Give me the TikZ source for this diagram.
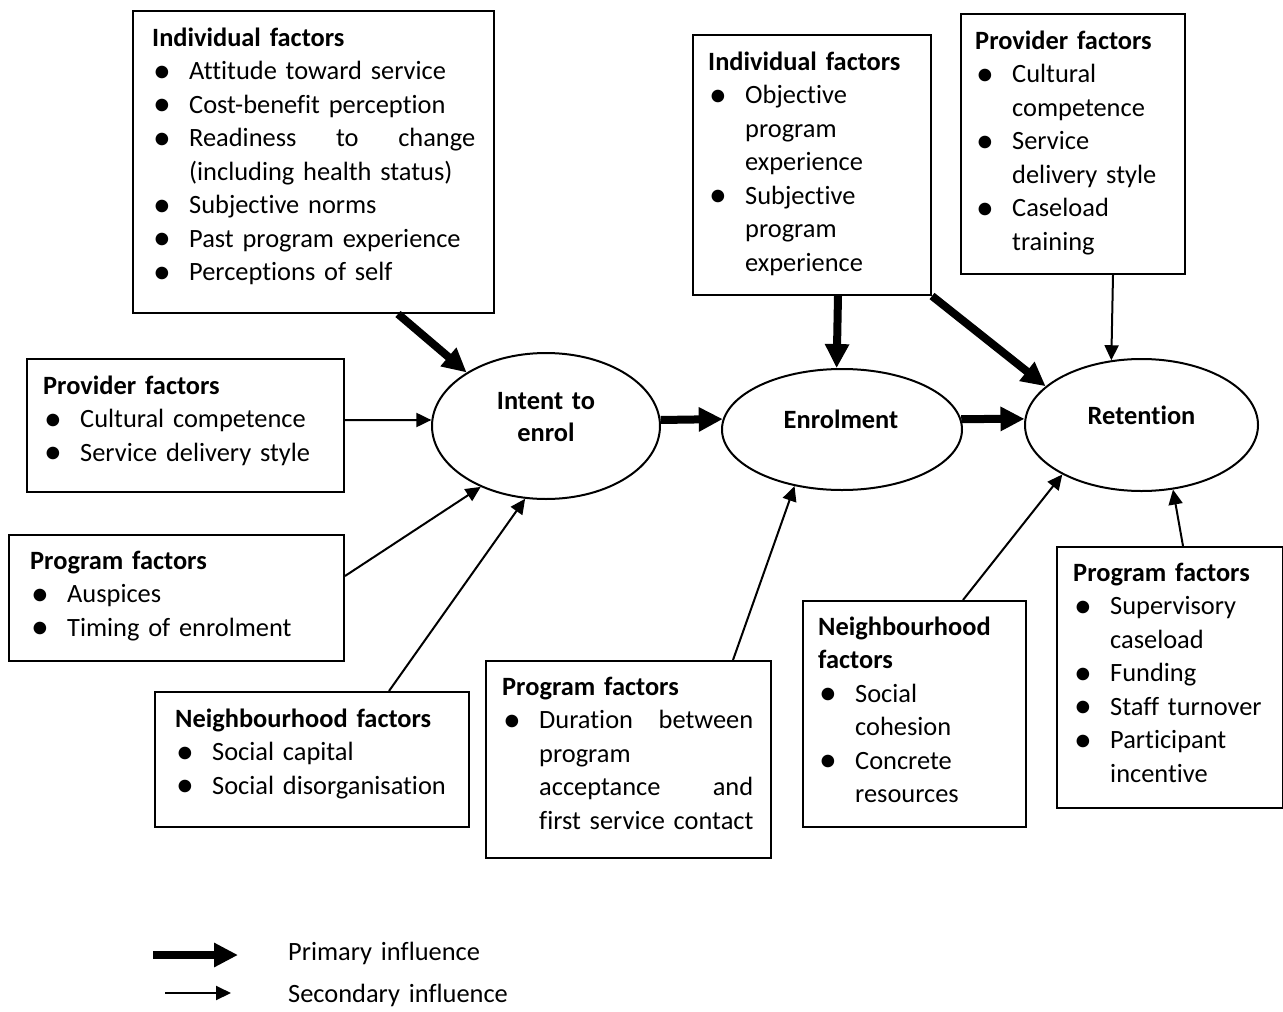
\documentclass[tikz,border=0pt]{standalone}
\usepackage{fontspec}
\usepackage{graphicx}
\setmainfont{Carlito}[Ligatures=NoCommon]
\usetikzlibrary{arrows.meta,shapes.geometric}
\newcommand{\bulsym}{\raisebox{-2.8pt}{\scalebox{1.35}{\textbullet}}}
\newcommand{\bul}{\makebox[37pt][l]{\hspace{1pt}\bulsym}}
\newcommand{\cont}{\hspace*{37pt}}
\begin{document}
\begin{tikzpicture}[x=1pt,y=-1pt,
  box/.style={draw, line width=2pt, rectangle, inner sep=0pt, anchor=north west},
  oval/.style={draw, line width=2pt, ellipse, inner sep=0pt},
  txt/.style={anchor=base west, inner sep=0pt, align=left, text width=330pt,
    font=\fontsize{26.4}{33.5}\selectfont},
  lab/.style={anchor=base, inner sep=0pt, align=center, text width=220pt,
    font=\fontsize{26.4}{32}\selectfont\bfseries},
  primary/.style={line width=8pt, -{Triangle[length=24pt,width=23pt]}},
  secondary/.style={line width=2pt, -{Triangle[length=15pt,width=14pt]}}]
\useasboundingbox[fill=white] (0,0) rectangle (1283,1012);

% boxes
\node[box, minimum width=361pt, minimum height=302pt] (b1) at (132,10) {};
\node[box, minimum width=317pt, minimum height=133pt] (b2) at (26,358) {};
\node[box, minimum width=335pt, minimum height=126pt] (b3) at (8,534) {};
\node[box, minimum width=314pt, minimum height=135pt] (b4) at (154,691) {};
\node[box, minimum width=285pt, minimum height=197pt] (b5) at (485,660) {};
\node[box, minimum width=223pt, minimum height=226pt] (b6) at (802,600) {};
\node[box, minimum width=226pt, minimum height=261pt] (b7) at (1056,546) {};
\node[box, minimum width=238pt, minimum height=260pt] (b8) at (692,34) {};
\node[box, minimum width=224pt, minimum height=260pt] (b9) at (960,13) {};

% box texts
\node[txt] (t1) at (152,46) {\textbf{Individual factors}\\
\bul Attitude toward service\\
\bul Cost-benefit perception\\
\bul \hbox to 286pt{Readiness\hfill to\hfill change}\\
\cont (including health status)\\
\bul Subjective norms\\
\bul Past program experience\\
\bul Perceptions of self};

\node[txt] (t2) at (43,394) {\textbf{Provider factors}\\
\bul Cultural competence\\
\bul Service delivery style};

\node[txt] (t3) at (30,569) {\textbf{Program factors}\\
\bul Auspices\\
\bul Timing of enrolment};

\node[txt] (t4) at (175,727) {\textbf{Neighbourhood factors}\\
\bul Social capital\\
\bul Social disorganisation};

\node[txt] (t5) at (502,695) {\textbf{Program factors}\\
\bul \hbox to 214pt{Duration\hfill between}\\
\cont program\\
\cont \hbox to 214pt{acceptance\hfill and}\\
\cont first service contact};

\node[txt] (t6) at (818,635) {\textbf{Neighbourhood}\\
\textbf{factors}\\
\bul Social\\
\cont cohesion\\
\bul Concrete\\
\cont resources};

\node[txt] (t7) at (1073,581) {\textbf{Program factors}\\
\bul Supervisory\\
\cont caseload\\
\bul Funding\\
\bul Staff turnover\\
\bul Participant\\
\cont incentive};

\node[txt] (t8) at (708,70) {\textbf{Individual factors}\\
\bul Objective\\
\cont program\\
\cont experience\\
\bul Subjective\\
\cont program\\
\cont experience};

\node[txt] (t9) at (975,49) {\textbf{Provider factors}\\
\bul Cultural\\
\cont competence\\
\bul Service\\
\cont delivery style\\
\bul Caseload\\
\cont training};

% ellipses
\node[oval, minimum width=228pt, minimum height=146pt] (intent) at (546,426) {};
\node[oval, minimum width=240pt, minimum height=121pt] (enrol) at (842,429.5) {};
\node[oval, minimum width=233pt, minimum height=132pt] (ret) at (1141.5,425) {};
\node[lab] (intentl) at (546,409) {Intent to\\enrol};
\node[lab] (enroll) at (841,428) {Enrolment};
\node[lab] (retl) at (1141.5,424) {Retention};

% primary influences
\draw[primary] ([xshift=84.5pt]b1.south) -- (intent.146);
\draw[primary] (intent.3) -- (enrol.175);
\draw[primary] ([xshift=26pt]b8.south) -- (enrol.95);
\draw[primary] (b8.south east) -- (ret.158);
\draw[primary] (enrol.5) -- (ret.177);

% secondary influences
\draw[secondary] ([yshift=5.5pt]b2.east) -- (intent.177);
\draw[secondary] ([yshift=22pt]b3.east) -- (intent.223);
\draw[secondary] ([xshift=77pt]b4.north) -- (intent.254);
\draw[secondary] ([xshift=104.5pt]b5.north) -- (enrol.230);
\draw[secondary] ([xshift=48.5pt]b6.north) -- (ret.212);
\draw[secondary] ([xshift=13pt]b7.north) -- (ret.296);
\draw[secondary] ([xshift=40pt]b9.south) -- (ret.115);

% legend
\coordinate (lg1a) at (153,955);
\coordinate (lg1b) at (238,955);
\coordinate (lg2a) at (165,993);
\coordinate (lg2b) at (231,993);
\draw[primary] (lg1a) -- (lg1b);
\draw[secondary] (lg2a) -- (lg2b);
\node[txt] (lgp) at (288,960) {Primary influence};
\node[txt] (lgs) at (288,1002) {Secondary influence};
\end{tikzpicture}
\end{document}
